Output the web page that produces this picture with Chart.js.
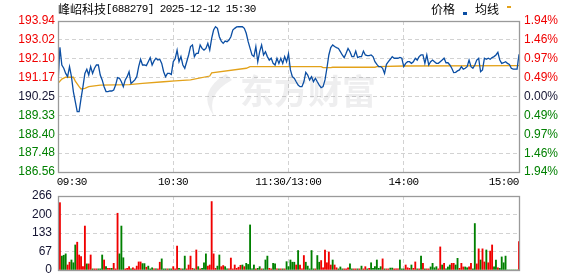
<!DOCTYPE html>
<html>
<head>
<meta charset="utf-8">
<script src="https://cdn.jsdelivr.net/npm/chart.js@4/dist/chart.umd.min.js"></script>
<style>
  html, body { margin: 0; padding: 0; background: #fff; }
  #wrap { position: relative; width: 578px; height: 276px; }
  canvas { position: absolute; left: 0; }
</style>
</head>
<body>
<div id="wrap">
  <canvas id="priceChart" width="578" height="188" style="top:0"></canvas>
  <canvas id="volChart" width="578" height="90" style="top:186px"></canvas>
</div>
<script>
const titleText = "峰岹科技[688279] 2025-12-12 15:30";
const timeTicks = [0, 60, 120, 180, 240];
const timeLabels = ["09:30", "10:30", "11:30/13:00", "14:00", "15:00"];
const prevClose = 190.25;
const priceTicks = [193.94, 193.02, 192.10, 191.17, 190.25, 189.33, 188.40, 187.48, 186.56];
const pctTicks = [1.94, 1.46, 0.97, 0.49, 0, -0.49, -0.97, -1.46, -1.94];
const volTicks = [0, 67, 133, 200, 266];

// one price per minute, 09:30 .. 11:30 then 13:01 .. 15:00
const prices = [
  190.89, 192.65, 191.79, 191.63, 191.38, 191.22, 191.71, 191.22, 190.49, 190.00,
  189.51, 189.51, 190.16, 190.73, 191.38, 191.58, 191.30, 191.71, 191.38, 191.63,
  191.79, 191.79, 191.30, 191.06, 190.73, 190.49, 190.49, 190.52, 190.52, 190.57,
  190.81, 191.17, 191.14, 190.97, 190.73, 191.06, 191.22, 191.46, 190.89, 190.97,
  191.06, 191.22, 191.71, 192.07, 191.79, 191.79, 191.76, 191.95, 192.15, 191.79,
  191.99, 192.12, 192.03, 192.07, 191.87, 191.46, 191.22, 191.38, 191.38, 191.33,
  191.95, 192.10, 192.52, 191.95, 192.20, 191.79, 191.63, 191.95, 192.28, 192.69,
  192.77, 192.20, 192.36, 192.36, 192.77, 192.60, 192.52, 192.60, 192.85, 192.52,
  193.09, 193.50, 193.66, 193.58, 193.17, 192.96, 192.85, 192.96, 192.93, 193.01,
  193.17, 193.50, 193.58, 193.65, 193.66, 193.66, 193.66, 193.58, 193.34, 192.93,
  192.60, 192.28, 192.20, 192.69, 191.95, 192.44, 192.77, 192.28, 192.44, 192.20,
  192.03, 192.12, 191.87, 191.79, 192.12, 191.87, 192.12, 191.87, 192.20, 191.95,
  192.33, 191.55, 191.22, 191.14, 190.97, 190.81, 190.73, 190.73, 190.97, 191.43,
  191.30, 191.06, 191.22, 190.97, 191.14, 190.97, 190.81, 190.68, 190.73, 191.06,
  191.63, 192.28, 192.64, 192.77, 192.69, 192.64, 192.60, 192.44, 192.28, 192.15,
  192.36, 192.60, 192.44, 192.20, 192.20, 192.47, 192.15, 192.20, 192.20, 192.47,
  192.28, 192.25, 192.25, 192.28, 192.20, 191.95, 191.82, 191.71, 191.71, 191.63,
  191.38, 191.82, 191.95, 192.07, 192.20, 192.12, 192.12, 192.12, 192.16, 192.12,
  191.71, 191.87, 191.95, 191.95, 191.87, 191.95, 192.12, 192.03, 192.20, 192.28,
  192.28, 191.87, 192.28, 191.79, 191.95, 192.03, 191.95, 191.87, 191.87, 191.95,
  192.03, 192.12, 191.90, 191.90, 191.79, 191.63, 191.42, 191.43, 191.50, 191.55,
  191.71, 191.59, 191.63, 191.71, 192.03, 191.71, 191.63, 191.79, 192.03, 192.12,
  191.46, 191.55, 192.12, 192.07, 192.12, 192.07, 192.15, 192.20, 192.28, 192.41,
  192.03, 191.87, 191.90, 191.95, 191.87, 191.82, 191.63, 191.59, 191.59, 191.59,
  192.31
];

// average price line, read at the minutes where it bends
const avgMinutes = [0, 2, 4, 8, 9, 11, 12, 14, 16, 22, 37, 44, 55, 61, 69, 79, 80, 98, 100, 120, 137, 138, 142, 143, 165, 166, 180, 240];
const avgPrices = [190.89, 191.10, 191.19, 191.19, 191.00, 190.73, 190.62, 190.65, 190.73, 190.81, 190.83, 190.89, 190.97, 191.01, 191.06, 191.25, 191.40, 191.63, 191.71, 191.71, 191.71, 191.66, 191.66, 191.68, 191.68, 191.71, 191.74, 191.76];

const volumes = [
  0, 242, 50, 53, 58, 18, 28, 36, 26, 90,
  100, 54, 48, 12, 158, 22, 22, 54, 4, 4,
  4, 4, 4, 54, 36, 12, 6, 6, 6, 24,
  4, 204, 58, 158, 44, 4, 6, 12, 4, 8,
  4, 14, 29, 29, 23, 23, 10, 14, 4, 8,
  4, 4, 4, 28, 40, 4, 4, 4, 4, 4,
  12, 4, 86, 6, 4, 4, 50, 4, 18, 50,
  6, 4, 72, 12, 4, 6, 26, 58, 14, 18,
  246, 58, 6, 14, 54, 12, 16, 12, 4, 4,
  43, 4, 18, 6, 10, 17, 18, 12, 24, 20,
  162, 4, 18, 4, 6, 12, 4, 4, 36, 50,
  6, 4, 24, 22, 4, 4, 4, 4, 4, 30,
  12, 36, 28, 28, 18, 70, 18, 4, 52, 28,
  14, 4, 70, 4, 4, 52, 28, 34, 8, 72,
  26, 65, 18, 36, 18, 8, 4, 11, 4, 4,
  4, 8, 22, 4, 4, 4, 4, 4, 14, 4,
  12, 4, 6, 26, 6, 12, 36, 6, 12, 40,
  4, 4, 4, 7, 7, 4, 4, 4, 36, 4,
  4, 18, 8, 6, 18, 6, 29, 4, 4, 50,
  24, 4, 4, 4, 11, 24, 8, 12, 4, 83,
  18, 24, 4, 11, 18, 24, 24, 18, 42, 6,
  24, 11, 11, 8, 11, 24, 4, 167, 22, 76,
  36, 76, 29, 72, 26, 68, 90, 11, 36, 8,
  6, 47, 26, 50, 0, 0, 0, 0, 0, 0,
  102
];

// 1 = up minute (red), 0 = down minute (green)
const volumeUp = [
  1,1,0,0,0,1,1,0,0,0,
  1,1,1,1,1,0,1,1,0,1,
  1,0,0,0,1,0,1,1,0,1,
  1,1,0,0,0,1,1,1,0,1,
  1,1,1,1,0,0,1,0,0,0,
  1,0,1,1,0,0,0,1,0,0,
  1,1,1,0,1,0,0,1,1,1,
  1,0,1,0,1,0,0,0,1,1,
  1,1,1,0,0,1,1,0,0,1,
  1,1,1,1,1,1,0,1,0,0,
  0,0,0,1,0,0,1,0,0,0,
  1,1,0,0,1,0,1,0,1,0,
  0,0,0,0,1,0,1,1,1,0,
  0,0,0,0,1,0,0,1,1,1,
  1,1,1,0,1,1,0,0,0,1,
  1,1,0,0,1,1,0,1,0,1,
  1,0,1,0,0,0,0,0,0,1,
  0,1,1,0,0,1,1,1,0,0,
  0,1,1,1,0,1,1,0,1,0,
  1,0,1,1,0,0,0,0,1,1,
  0,1,0,0,0,1,1,0,0,1,
  1,1,0,0,1,1,0,0,1,1,
  0,1,1,0,1,1,1,0,0,1,
  0,0,0,0,0,0,0,0,0,0,
  1
];

const RED = "#f00000";
const GREEN = "#008000";
const NEUTRAL = "#141432";
const GRID = "#d2d2d2";
const FRAME = "#9a9a9a";
const tickFont = { family: "'Liberation Sans', Arial, sans-serif", size: 12 };

// draws text the way a Chinese bitmap font does: wide glyphs 12px, narrow ones 6px
function cellWidth(ch) { return ch.charCodeAt(0) > 255 ? 12 : 6; }
function textWidth(s) { let w = 0; for (const ch of s) w += cellWidth(ch); return w; }
function drawCells(ctx, s, x, y, color) {
  ctx.save();
  ctx.fillStyle = color;
  ctx.textAlign = "center";
  ctx.textBaseline = "middle";
  for (const ch of s) {
    const w = cellWidth(ch);
    ctx.font = w === 12 ? "12px 'Noto Sans CJK SC'" : "11px 'Liberation Mono', monospace";
    if (ch !== " ") ctx.fillText(ch, x + w / 2, y);
    x += w;
  }
  ctx.restore();
}

function frame(chart) {
  const a = chart.chartArea, ctx = chart.ctx;
  ctx.save();
  ctx.strokeStyle = FRAME;
  ctx.lineWidth = 1.3;
  ctx.strokeRect(a.left + 0.5, a.top + 0.5, a.right - a.left, a.bottom - a.top);
  ctx.restore();
}

const priceDecor = {
  id: "priceDecor",
  beforeDatasetsDraw(chart) {
    const ctx = chart.ctx;
    ctx.save();
    ctx.fillStyle = "rgba(120,120,135,0.13)";
    ctx.font = "bold 34px 'Noto Sans CJK SC'";
    ctx.textBaseline = "middle";
    ctx.fillText("东方财富", 240, 91);
    // logo swoosh
    ctx.beginPath();
    ctx.moveTo(226, 74);
    ctx.quadraticCurveTo(196, 92, 214, 116);
    ctx.quadraticCurveTo(206, 94, 232, 80);
    ctx.closePath();
    ctx.fill();
    ctx.restore();
  },
  afterDraw(chart) {
    const ctx = chart.ctx, a = chart.chartArea, x = chart.scales.x;
    frame(chart);
    drawCells(ctx, titleText, 58, 9, "#000");
    drawCells(ctx, "价格", 431, 9, "#000");
    ctx.fillStyle = "#0b4ea3";
    ctx.fillRect(463, 12, 4, 3);
    drawCells(ctx, "均线", 475, 9, "#000");
    ctx.fillStyle = "#e3a21a";
    ctx.fillRect(507, 6, 4, 2);
    timeTicks.forEach((t, i) => {
      const s = timeLabels[i], w = textWidth(s), px = x.getPixelForValue(t);
      let left = px - w / 2;
      if (i === 0) left = a.left - 1;
      if (i === timeTicks.length - 1) left = a.right - w;
      drawCells(ctx, s, left, a.bottom + 10, "#000");
    });
  }
};

const volDecor = { id: "volDecor", afterDraw: frame };

function gridColor(first, last) {
  return ctx => (ctx.tick.value === first || ctx.tick.value === last) ? "transparent" : GRID;
}
function fixWidth(w) {
  return s => { s.width = w; s.paddingTop = 0; s.paddingBottom = 0; };
}

new Chart(document.getElementById("priceChart"), {
  type: "line",
  data: {
    datasets: [
      {
        data: prices.map((p, i) => ({ x: i, y: p })),
        borderColor: "#0b4ea3",
        borderWidth: 1.3,
        pointRadius: 0,
        tension: 0
      },
      {
        data: avgMinutes.map((m, i) => ({ x: m, y: avgPrices[i] })),
        borderColor: "#e3a21a",
        borderWidth: 1.3,
        pointRadius: 0,
        tension: 0
      }
    ]
  },
  options: {
    responsive: false,
    animation: false,
    devicePixelRatio: 1,
    layout: { padding: { top: 21, left: 0, right: 0, bottom: 0 } },
    plugins: { legend: { display: false }, tooltip: { enabled: false } },
    scales: {
      x: {
        type: "linear", min: 0, max: 240,
        afterBuildTicks: s => { s.ticks = timeTicks.map(v => ({ value: v })); },
        ticks: { display: false },
        grid: { color: gridColor(0, 240), drawTicks: false, lineWidth: 1 },
        border: { display: false, dash: [4, 3] },
        afterFit: s => { s.height = 16; s.paddingLeft = 0; s.paddingRight = 0; }
      },
      y: {
        position: "left", min: 186.56, max: 193.94,
        afterBuildTicks: s => { s.ticks = priceTicks.map(v => ({ value: v })); },
        ticks: {
          font: tickFont, padding: 3,
          color: c => c.tick.value > prevClose ? RED : (c.tick.value < prevClose ? GREEN : NEUTRAL),
          callback: v => v.toFixed(2)
        },
        grid: { color: gridColor(186.56, 193.94), drawTicks: false, lineWidth: 1 },
        border: { display: false, dash: [4, 3] },
        afterFit: fixWidth(58)
      },
      y1: {
        position: "right", min: -1.94, max: 1.94,
        afterBuildTicks: s => { s.ticks = pctTicks.map(v => ({ value: v })); },
        ticks: {
          font: tickFont, padding: 5,
          color: c => c.tick.value > 0 ? RED : (c.tick.value < 0 ? GREEN : NEUTRAL),
          callback: v => Math.abs(v).toFixed(2) + "%"
        },
        grid: { display: false, drawTicks: false },
        border: { display: false },
        afterFit: fixWidth(59)
      }
    }
  },
  plugins: [priceDecor]
});

new Chart(document.getElementById("volChart"), {
  type: "bar",
  data: {
    datasets: [{
      data: volumes.map((v, i) => ({ x: i, y: v })),
      backgroundColor: volumeUp.map(u => u ? RED : GREEN),
      borderWidth: 0,
      barThickness: 1.2
    }]
  },
  options: {
    responsive: false,
    animation: false,
    devicePixelRatio: 1,
    layout: { padding: { top: 10, right: 59, left: 0, bottom: 0 } },
    plugins: { legend: { display: false }, tooltip: { enabled: false } },
    scales: {
      x: {
        type: "linear", min: 0, max: 240, offset: false,
        afterBuildTicks: s => { s.ticks = timeTicks.map(v => ({ value: v })); },
        ticks: { display: false },
        grid: { color: gridColor(0, 240), drawTicks: false, lineWidth: 1, offset: false },
        border: { display: false, dash: [4, 3] },
        afterFit: s => { s.height = 6; s.paddingLeft = 0; s.paddingRight = 0; }
      },
      y: {
        min: 0, max: 266,
        afterBuildTicks: s => { s.ticks = volTicks.map(v => ({ value: v })); },
        ticks: { font: tickFont, padding: 6, color: NEUTRAL, callback: v => String(v) },
        grid: { color: gridColor(0, 266), drawTicks: false, lineWidth: 1 },
        border: { display: false, dash: [4, 3] },
        afterFit: fixWidth(58)
      }
    }
  },
  plugins: [volDecor]
});
</script>
</body>
</html>
